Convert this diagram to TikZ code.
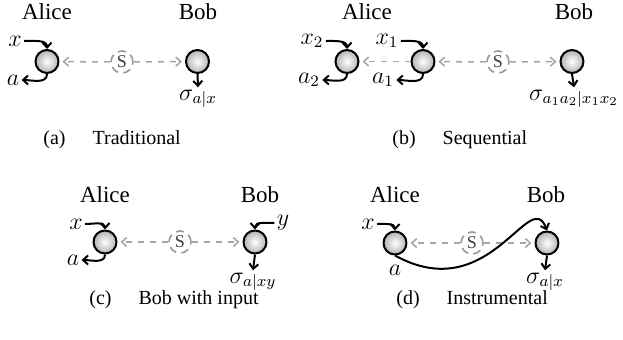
\documentclass[tikz,border=0pt]{standalone}
\usepackage{fontspec}
\setmainfont{Liberation Serif}
\usetikzlibrary{arrows.meta,positioning}
\tikzset{
  party/.style={circle,draw=black,line width=1pt,minimum size=11.5pt,inner sep=0pt,inner color=white,outer color=black!30},
  src/.style={circle,draw=black!40,line width=0.8pt,dash pattern=on 4pt off 2.6pt,minimum size=11pt,inner sep=0pt,text=black!75,font=\fontsize{9}{9}\selectfont},
  lnk/.style={-{Straight Barb[length=2.5pt,width=4.5pt]},line width=0.8pt,draw=black!35,dash pattern=on 3pt off 3pt,shorten >=1.5pt},
  io/.style={-{Straight Barb[length=2.5pt,width=4.5pt]},line width=1pt},
  who/.style={font=\fontsize{11.5}{13}\selectfont},
  var/.style={font=\fontsize{11.5}{13}\selectfont,inner sep=1pt},
  subcap/.style={font=\fontsize{10}{12}\selectfont,anchor=base west,inner sep=0pt},
}
\begin{document}
\begin{tikzpicture}[x=0.5pt,y=-0.5pt,line join=round]
\useasboundingbox (0,0) rectangle (623,339);
% (a) traditional
\node[who] (aAlice) at (47,12) {Alice};
\node[who] (aBob) at (198,12) {Bob};
\node[party] (aA) at (47,61.5) {};
\node[src] (aS) at (122,62) {S};
\node[party] (aB) at (197.5,61.5) {};
\node[var] (ax) at (15,41) {$x$};
\node[var] (aa) at (13,80) {$a$};
\node[var,anchor=base] (asig) at (198,100) {$\sigma_{a|x}$};
\draw[lnk] (aS) -- (aA);
\draw[lnk] (aS) -- (aB);
\draw[io] (ax.east) to[out=0,in=90] (aA.north);
\draw[io] (aA.south) to[out=-90,in=0] (aa.east);
\draw[io] (aB.south) -- (asig.north);
\node[subcap] (acap) at (43,144) {(a)\hspace{13.5pt}Traditional};
% (b) sequential
\node[who] (bAlice) at (367,12) {Alice};
\node[who] (bBob) at (574,12) {Bob};
\node[party] (bA2) at (347,61.5) {};
\node[party] (bA1) at (423,61.5) {};
\node[src] (bS) at (498,62) {S};
\node[party] (bB) at (572,61.5) {};
\node[var] (bx2) at (312,41) {$x_2$};
\node[var] (ba2) at (309,80) {$a_2$};
\node[var] (bx1) at (387,41) {$x_1$};
\node[var] (ba1) at (383,80) {$a_1$};
\node[var,anchor=base] (bsig) at (574,100) {$\sigma_{a_1a_2|x_1x_2}$};
\draw[lnk] (bA1) -- (bA2);
\draw[lnk] (bS) -- (bA1);
\draw[lnk] (bS) -- (bB);
\draw[io] (bx2.east) to[out=0,in=90] (bA2.north);
\draw[io] (bA2.south) to[out=-90,in=0] (ba2.east);
\draw[io] (bx1.east) to[out=0,in=90] (bA1.north);
\draw[io] (bA1.south) to[out=-90,in=0] (ba1.east);
\draw[io] (bB.south) -- (bsig.north);
\node[subcap] (bcap) at (392,144) {(b)\hspace{13.5pt}Sequential};
% (c) bob with input
\node[who] (cAlice) at (105,195) {Alice};
\node[who] (cBob) at (260,195) {Bob};
\node[party] (cA) at (105,242) {};
\node[src] (cS) at (180,242) {S};
\node[party] (cB) at (255,242) {};
\node[var] (cx) at (76,224) {$x$};
\node[var] (ca) at (73,260) {$a$};
\node[var] (cy) at (283,223) {$y$};
\node[var,anchor=base] (csig) at (253,283) {$\sigma_{a|xy}$};
\draw[lnk] (cS) -- (cA);
\draw[lnk] (cS) -- (cB);
\draw[io] (cx.east) to[out=0,in=90] (cA.north);
\draw[io] (cA.south) to[out=-90,in=0] (ca.east);
\draw[io] (cy.west) to[out=180,in=90] (cB.north);
\draw[io] (cB.south) -- (csig.north);
\node[subcap] (ccap) at (89,304) {(c)\hspace{13.5pt}Bob with input};
% (d) instrumental
\node[who] (dAlice) at (395,195) {Alice};
\node[who] (dBob) at (546,195) {Bob};
\node[party] (dA) at (395,243) {};
\node[src] (dS) at (472,243) {S};
\node[party] (dB) at (547,243) {};
\node[var] (dx) at (368,224) {$x$};
\node[var] (da) at (395,270) {$a$};
\node[var,anchor=base] (dsig) at (545,283) {$\sigma_{a|x}$};
\draw[lnk] (dS) -- (dA);
\draw[lnk] (dS) -- (dB);
\draw[io] (dx.east) to[out=0,in=90] (dA.north);
\draw[io] (dA.south) .. controls (490,308) and (530,185) .. (dB.north);
\draw[io] (dB.south) -- (dsig.north);
\node[subcap] (dcap) at (396,304) {(d)\hspace{13.5pt}Instrumental};
\end{tikzpicture}
\end{document}
